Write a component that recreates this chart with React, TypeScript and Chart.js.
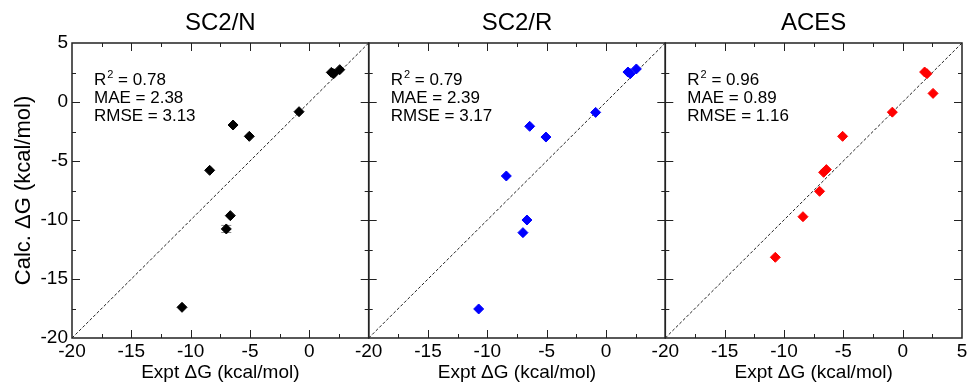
import { useEffect, useRef } from "react";
import { Chart, registerables } from "chart.js";

Chart.register(...registerables);

// ---- data ----
const panelTitles = ["SC2/N", "SC2/R", "ACES"];
const exptDG = [1.85, 2.05, 2.56, -0.87, -6.43, -5.06, -8.4, -6.66, -7.0, -10.73];
const sc2nDG = [2.51, 2.4, 2.74, -0.82, -1.95, -2.91, -5.79, -9.63, -10.76, -17.4];
const sc2rDG = [2.54, 2.4, 2.8, -0.88, -2.06, -2.97, -6.27, -10.0, -11.07, -17.54];
const acesDG = [2.54, 2.4, 0.73, -0.86, -5.73, -2.91, -9.72, -5.96, -7.57, -13.16];
const sc2nErr = [0, 0, 0, 0, 0, 0, 0, 0, 0.3, 0];
const noErr = [0, 0, 0, 0, 0, 0, 0, 0, 0, 0];
const r2Labels = ["0.78", "0.79", "0.96"];
const maeLabels = ["2.38", "2.39", "0.89"];
const rmseLabels = ["3.13", "3.17", "1.16"];
const markerColors = ["#000000", "#0000ff", "#ff0000"];
const axisMin = -20;
const axisMax = 5;
const tickStep = 2.5;
const labelStep = 5;
const diagonal = [axisMin, axisMax];
const xTitle = "Expt ΔG (kcal/mol)";
const yTitle = "Calc. ΔG (kcal/mol)";

const calcSeries = [sc2nDG, sc2rDG, acesDG];
const errSeries = [sc2nErr, noErr, noErr];

// ---- layout ----
const W = 971;
const H = 388;
const plotLefts = [72, 368.7, 665.3];
const plotRights = [368.7, 665.3, 962];
const Y_AXIS_W = 72;
const X_AXIS_H = 50;

const SANS = '"Liberation Sans", Arial, Helvetica, sans-serif';

const isMajor = (v: number) => Math.abs(v / labelStep - Math.round(v / labelStep)) < 1e-6;

function makePanelPlugin(i: number) {
  return {
    id: "panelDecor" + i,
    beforeDatasetsDraw(chart: any) {
      const { ctx, scales } = chart;
      const xs = scales.x;
      const ys = scales.y;
      const errs = errSeries[i];
      ctx.save();
      ctx.strokeStyle = "#888";
      ctx.lineWidth = 1;
      exptDG.forEach((xv, k) => {
        const e = errs[k];
        if (!e) return;
        const px = xs.getPixelForValue(xv);
        const y1 = ys.getPixelForValue(calcSeries[i][k] + e);
        const y2 = ys.getPixelForValue(calcSeries[i][k] - e);
        ctx.beginPath();
        ctx.moveTo(px, y1);
        ctx.lineTo(px, y2);
        ctx.moveTo(px - 5, y1);
        ctx.lineTo(px + 5, y1);
        ctx.moveTo(px - 5, y2);
        ctx.lineTo(px + 5, y2);
        ctx.stroke();
      });
      ctx.restore();
    },
    afterDatasetsDraw(chart: any) {
      const { ctx, chartArea: a, scales } = chart;
      const xs = scales.x;
      const ys = scales.y;
      ctx.save();
      ctx.strokeStyle = "#222";
      ctx.lineWidth = 1;
      xs.ticks.forEach((t: any) => {
        const v = t.value;
        if (v <= axisMin || v >= axisMax) return;
        const len = isMajor(v) ? 8 : 4;
        const px = Math.round(xs.getPixelForValue(v)) + 0.5;
        ctx.beginPath();
        ctx.moveTo(px, a.bottom);
        ctx.lineTo(px, a.bottom - len);
        ctx.moveTo(px, a.top);
        ctx.lineTo(px, a.top + len);
        ctx.stroke();
      });
      ys.ticks.forEach((t: any) => {
        const v = t.value;
        if (v <= axisMin || v >= axisMax) return;
        const len = isMajor(v) ? 8 : 4;
        const py = Math.round(ys.getPixelForValue(v)) + 0.5;
        ctx.beginPath();
        ctx.moveTo(a.left, py);
        ctx.lineTo(a.left + len, py);
        ctx.moveTo(a.right, py);
        ctx.lineTo(a.right - len, py);
        ctx.stroke();
      });
      ctx.lineWidth = 1.5;
      ctx.strokeStyle = "#222";
      ctx.strokeRect(a.left, a.top, a.right - a.left, a.bottom - a.top);

      // statistics text
      const x0 = a.left + 22;
      ctx.fillStyle = "#000";
      ctx.textBaseline = "alphabetic";
      ctx.textAlign = "left";
      ctx.font = "17px " + SANS;
      ctx.fillText("R", x0, a.top + 42);
      const rw = ctx.measureText("R").width;
      ctx.font = "11px " + SANS;
      ctx.fillText("2", x0 + rw + 1, a.top + 35);
      const sw = ctx.measureText("2").width;
      ctx.font = "17px " + SANS;
      ctx.fillText(" = " + r2Labels[i], x0 + rw + 1 + sw, a.top + 42);
      ctx.fillText("MAE = " + maeLabels[i], x0, a.top + 60);
      ctx.fillText("RMSE = " + rmseLabels[i], x0, a.top + 77.5);
      ctx.restore();
    },
  };
}

function makeConfig(i: number): any {
  const showY = i === 0;
  const last = i === panelTitles.length - 1;
  return {
    type: "scatter",
    data: {
      datasets: [
        {
          label: panelTitles[i],
          data: exptDG.map((x, k) => ({ x, y: calcSeries[i][k] })),
          pointStyle: "rectRot",
          pointRadius: 5,
          pointHoverRadius: 5,
          pointBackgroundColor: markerColors[i],
          pointBorderColor: markerColors[i],
          pointBorderWidth: 1,
          showLine: false,
        },
        {
          label: "y = x",
          data: diagonal.map((v) => ({ x: v, y: v })),
          showLine: true,
          borderColor: "#222",
          borderWidth: 1,
          borderDash: [3, 2],
          pointRadius: 0,
          pointHoverRadius: 0,
          fill: false,
        },
      ],
    },
    options: {
      responsive: false,
      animation: false,
      events: [],
      layout: {
        padding: {
          left: plotLefts[i] - Y_AXIS_W,
          right: W - plotRights[i],
          top: 8.5,
          bottom: 0,
        },
      },
      plugins: {
        legend: { display: false },
        tooltip: { enabled: false },
        title: {
          display: true,
          text: panelTitles[i],
          fullSize: false,
          color: "#000",
          font: { family: SANS, size: 24, weight: "normal" },
          padding: { top: 0, bottom: 5.7 },
        },
      },
      scales: {
        x: {
          type: "linear",
          position: "bottom",
          min: axisMin,
          max: axisMax,
          grid: { display: false, drawTicks: false },
          border: { display: false },
          ticks: {
            stepSize: tickStep,
            autoSkip: false,
            maxRotation: 0,
            minRotation: 0,
            padding: 2,
            color: "#000",
            font: { family: SANS, size: 19 },
            callback: (v: number) => {
              if (!isMajor(v)) return "";
              if (v >= axisMax && !last) return "";
              return String(Math.round(v));
            },
          },
          title: {
            display: true,
            text: xTitle,
            color: "#000",
            font: { family: SANS, size: 19 },
            padding: { top: 0, bottom: 4 },
          },
          afterFit: (s: any) => {
            s.height = X_AXIS_H;
            s.paddingLeft = 0;
            s.paddingRight = 0;
          },
        },
        y: {
          type: "linear",
          position: "left",
          min: axisMin,
          max: axisMax,
          grid: { display: false, drawTicks: false },
          border: { display: false },
          ticks: {
            display: showY,
            stepSize: tickStep,
            autoSkip: false,
            padding: 4,
            color: "#000",
            font: { family: SANS, size: 19 },
            callback: (v: number) => (isMajor(v) ? String(Math.round(v)) : ""),
          },
          title: {
            display: showY,
            text: yTitle,
            color: "#000",
            font: { family: SANS, size: 22 },
            padding: { top: 11, bottom: 0 },
          },
          afterFit: (s: any) => {
            s.width = Y_AXIS_W;
            s.paddingTop = 0;
            s.paddingBottom = 0;
          },
        },
      },
    },
    plugins: [makePanelPlugin(i)],
  };
}

export default function App() {
  const r0 = useRef<HTMLCanvasElement | null>(null);
  const r1 = useRef<HTMLCanvasElement | null>(null);
  const r2 = useRef<HTMLCanvasElement | null>(null);

  useEffect(() => {
    const refs = [r0, r1, r2];
    const charts = refs.map((r, i) => new Chart(r.current as HTMLCanvasElement, makeConfig(i)));
    return () => charts.forEach((c) => c.destroy());
  }, []);

  const cstyle: any = { position: "absolute", left: 0, top: 0, width: W, height: H };
  return (
    <div style={{ position: "absolute", left: 0, top: 0, width: W, height: H, background: "#fff" }}>
      <canvas ref={r0} width={W} height={H} style={cstyle} />
      <canvas ref={r1} width={W} height={H} style={cstyle} />
      <canvas ref={r2} width={W} height={H} style={cstyle} />
    </div>
  );
}
